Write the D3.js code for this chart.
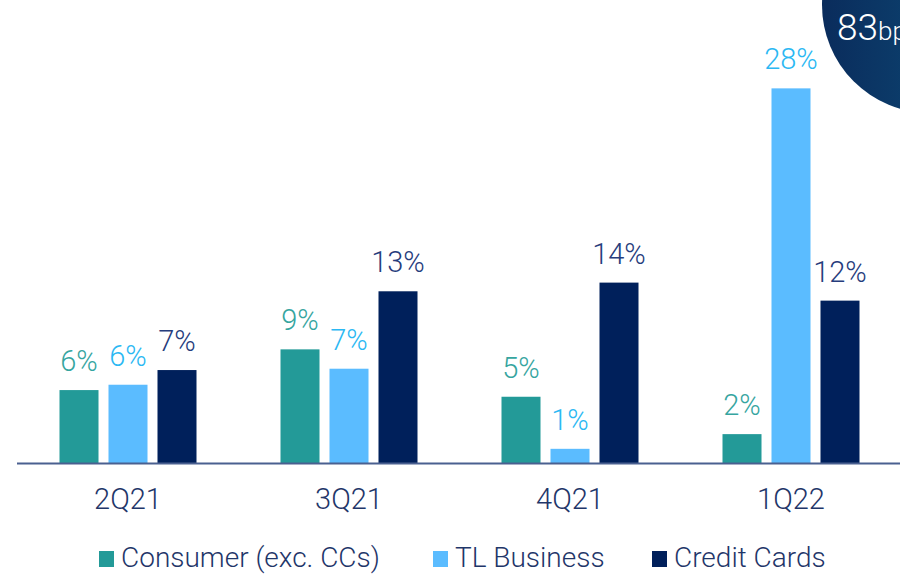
<!DOCTYPE html>
<html lang="en">
<head>
    <meta charset="UTF-8">
    <title>Loan growth by segment</title>
    <script src="https://cdn.jsdelivr.net/npm/d3@7"></script>
    <style>
        body { margin: 0; background: #fff; }
        svg { display: block; font-family: Roboto, "Open Sans", sans-serif; font-weight: 300; }
    </style>
</head>
<body>
    <div id="chart"></div>

    <script>
        // Data (percent)
        var quarters = ['2Q21', '3Q21', '4Q21', '1Q22'];
        var seriesNames = ['Consumer (exc. CCs)', 'TL Business', 'Credit Cards'];
        var consumer = [5.5, 8.55, 5.0, 2.2];
        var tlBusiness = [5.9, 7.1, 1.1, 28.1];
        var creditCards = [7.0, 12.9, 13.55, 12.2];

        var barColors = ['#239a98', '#5bbcff', '#00205b'];
        var labelColors = ['#36a59f', '#2bb8f3', '#263c7c'];
        var textColor = '#1f3669';

        var width = 900;
        var height = 575;

        var svg = d3.select('#chart')
                    .append('svg')
                    .attr('width', width)
                    .attr('height', height);

        var seriesValues = [consumer, tlBusiness, creditCards];
        var rows = quarters.map(function (q, i) {
            return { quarter: q, values: seriesValues.map(function (s, k) { return { key: k, value: s[i] }; }) };
        });

        var x0 = d3.scaleBand()
                   .domain(quarters)
                   .range([17.5, 901.5])
                   .padding(0);

        // three bars ~39px wide, 10px apart, centred in each band
        var x1 = d3.scaleBand()
                   .domain([0, 1, 2])
                   .range([x0.bandwidth() / 2 - 68.5, x0.bandwidth() / 2 + 68.5])
                   .paddingInner(0.204);

        var y = d3.scaleLinear()
                  .domain([0, 30])
                  .range([463.5, 463.5 - 30 * 13.35]);

        // top-right badge
        var defs = svg.append('defs');
        var grad = defs.append('linearGradient')
                       .attr('id', 'badge')
                       .attr('x1', '0%').attr('x2', '100%')
                       .attr('y1', '0%').attr('y2', '0%');
        grad.append('stop').attr('offset', '0%').attr('stop-color', '#0a2c5c');
        grad.append('stop').attr('offset', '100%').attr('stop-color', '#0e5580');

        svg.append('circle')
           .attr('cx', 930)
           .attr('cy', 5)
           .attr('r', 108)
           .attr('fill', 'url(#badge)');

        var badge = svg.append('text')
                       .attr('x', 837)
                       .attr('y', 40)
                       .attr('fill', '#fff');
        badge.append('tspan').attr('font-size', 37).text('83');
        badge.append('tspan').attr('font-size', 26).text('bps');

        // bars
        var groups = svg.selectAll('.group')
                        .data(rows)
                        .join('g')
                        .attr('class', 'group')
                        .attr('transform', function (d) { return 'translate(' + x0(d.quarter) + ',0)'; });

        groups.selectAll('rect')
              .data(function (d) { return d.values; })
              .join('rect')
              .attr('x', function (d) { return x1(d.key); })
              .attr('width', x1.bandwidth())
              .attr('y', function (d) { return y(d.value); })
              .attr('height', function (d) { return y(0) - y(d.value); })
              .attr('fill', function (d) { return barColors[d.key]; });

        groups.selectAll('.val')
              .data(function (d) { return d.values; })
              .join('text')
              .attr('class', 'val')
              .attr('x', function (d) { return x1(d.key) + x1.bandwidth() / 2; })
              .attr('y', function (d) { return y(d.value) - 19; })
              .attr('text-anchor', 'middle')
              .attr('font-size', 29)
              .attr('fill', function (d) { return labelColors[d.key]; })
              .text(function (d) { return Math.round(d.value) + '%'; });

        // baseline
        svg.append('line')
           .attr('x1', 17)
           .attr('x2', width)
           .attr('y1', y(0))
           .attr('y2', y(0))
           .attr('stroke', '#4a6090')
           .attr('stroke-width', 2);

        // category labels
        var xAxis = d3.axisBottom(x0).tickSize(0).tickPadding(0);
        var axisG = svg.append('g')
                       .attr('transform', 'translate(0,' + 474 + ')')
                       .call(xAxis);
        axisG.select('.domain').remove();
        axisG.selectAll('text')
             .attr('dy', '0.71em')
             .attr('y', 14)
             .attr('font-size', 29)
             .attr('font-family', 'Roboto, "Open Sans", sans-serif')
             .attr('font-weight', 300)
             .attr('fill', textColor);

        // legend
        var legendX = [99, 433, 652];
        var legend = svg.selectAll('.legend')
                        .data(seriesNames)
                        .join('g')
                        .attr('class', 'legend')
                        .attr('transform', function (d, i) { return 'translate(' + legendX[i] + ',551)'; });

        legend.append('rect')
              .attr('width', 15)
              .attr('height', 16)
              .attr('fill', function (d, i) { return barColors[i]; });

        legend.append('text')
              .attr('x', 22)
              .attr('y', 16)
              .attr('font-size', 28)
              .attr('fill', textColor)
              .text(function (d) { return d; });
    </script>
</body>
</html>
